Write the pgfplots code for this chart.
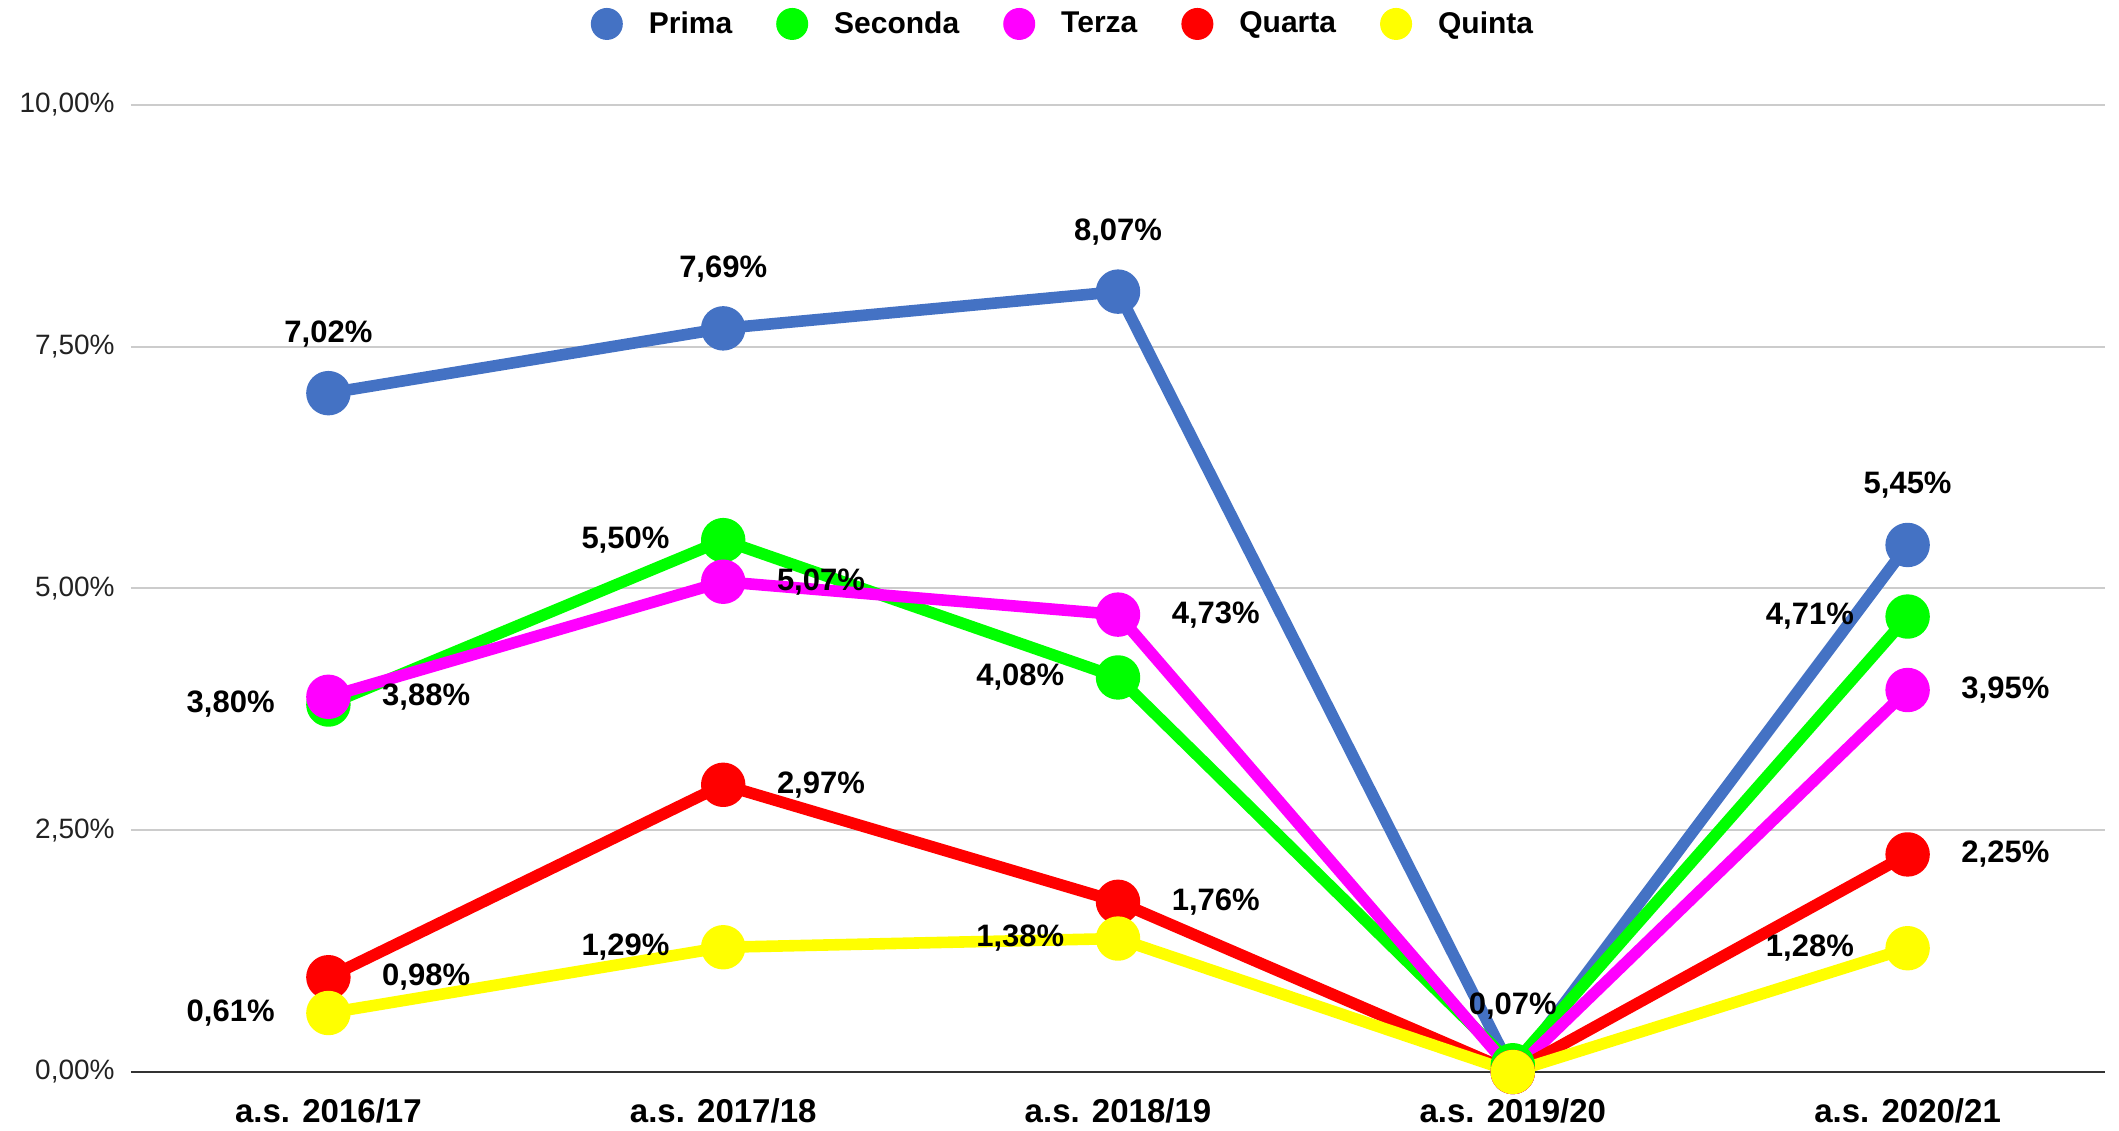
\documentclass[border=0pt]{standalone}
\usepackage{pgfplots}
\pgfplotsset{compat=1.18}
\usepackage{fontspec}
\setmainfont{Liberation Sans}
\definecolor{cPrima}{HTML}{4472C4}
\definecolor{cSeconda}{HTML}{00FF00}
\definecolor{cTerza}{HTML}{FF00FF}
\definecolor{cQuarta}{HTML}{FF0000}
\definecolor{cQuinta}{HTML}{FFFF00}
\definecolor{gridc}{HTML}{CCCCCC}
\definecolor{txt}{HTML}{222222}
\pgfplotsset{
  ser/.style={color=#1, line width=5.8pt, line join=round, mark=*, mark size=8.2pt,
    mark options={draw=none, fill=#1},
    point meta=explicit symbolic,
    nodes near coords={\pgfplotspointmeta},
    visualization depends on={value \thisrow{a}\as\anc},
    visualization depends on={\thisrow{xs}\as\xs},
    visualization depends on={\thisrow{ys}\as\ys},
    nodes near coords style={anchor=\anc, xshift=\xs pt, yshift=\ys pt, inner sep=0pt,
      text=black, font=\fontsize{15.5}{16}\selectfont\bfseries},
  },
}
\begin{document}
\begin{tikzpicture}
\useasboundingbox (-65.5pt,-29pt) rectangle (994pt,536pt);
\begin{axis}[
  at={(0pt,0pt)}, anchor=south west,
  scale only axis, width=987pt, height=483.5pt,
  xmin=-0.5, xmax=4.5, ymin=0, ymax=10,
  clip=false,
  axis x line*=bottom, axis y line*=left,
  y axis line style={draw=none},
  x axis line style={draw=black!80, line width=1.2pt, -},
  major tick length=0pt,
  xtick={0,1,2,3,4},
  xticklabels={a.s. 2016/17, a.s. 2017/18, a.s. 2018/19, a.s. 2019/20, a.s. 2020/21},
  xticklabel style={anchor=base, yshift=-25pt, inner sep=0pt, text=black,
    font=\fontsize{16.5}{17}\selectfont\bfseries},
  ytick={0,2.5,5,7.5,10},
  yticklabels={{0,00\%},{2,50\%},{5,00\%},{7,50\%},{10,00\%}},
  yticklabel style={anchor=east, xshift=-8pt, inner sep=0pt, text=txt,
    font=\fontsize{14}{15}\selectfont},
  ymajorgrids=true,
  major grid style={draw=gridc, line width=1pt},
  legend style={at={(0.4716,1.0838)}, anchor=center, draw=none, fill=none,
    legend columns=-1, font=\fontsize{15}{16}\selectfont\bfseries,
    nodes={inner sep=0pt, text=black},
    /tikz/every odd column/.append style={column sep=13pt},
    /tikz/every even column/.append style={column sep=22pt}},
  legend image code/.code={\fill[#1, draw=none] (0pt,0pt) circle (8pt);},
]
\addplot[ser=cPrima] table[x=x, y=y, meta=l] {
x y l a xs ys
0 7.02 7,02\% center 0 29.7
1 7.69 7,69\% center 0 29.7
2 8.07 8,07\% center 0 29.7
3 0.00 {} center 0 0
4 5.45 5,45\% center 0 29.7
};
\addlegendentry{Prima}
\addplot[ser=cSeconda] table[x=x, y=y, meta=l] {
x y l a xs ys
0 3.80 3,80\% east -24 0
1 5.50 5,50\% east -24 0
2 4.08 4,08\% east -24 0
3 0.07 0,07\% center 0 29.7
4 4.71 4,71\% east -24 0
};
\addlegendentry{Seconda}
\addplot[ser=cTerza] table[x=x, y=y, meta=l] {
x y l a xs ys
0 3.88 3,88\% west 24 0
1 5.07 5,07\% west 24 0
2 4.73 4,73\% west 24 0
3 0.00 {} center 0 0
4 3.95 3,95\% west 24 0
};
\addlegendentry{Terza}
\addplot[ser=cQuarta] table[x=x, y=y, meta=l] {
x y l a xs ys
0 0.98 0,98\% west 24 0
1 2.97 2,97\% west 24 0
2 1.76 1,76\% west 24 0
3 0.00 {} center 0 0
4 2.25 2,25\% west 24 0
};
\addlegendentry{Quarta}
\addplot[ser=cQuinta] table[x=x, y=y, meta=l] {
x y l a xs ys
0 0.61 0,61\% east -24 0
1 1.29 1,29\% east -24 0
2 1.38 1,38\% east -24 0
3 0.00 {} center 0 0
4 1.28 1,28\% east -24 0
};
\addlegendentry{Quinta}
\end{axis}
\end{tikzpicture}
\end{document}
